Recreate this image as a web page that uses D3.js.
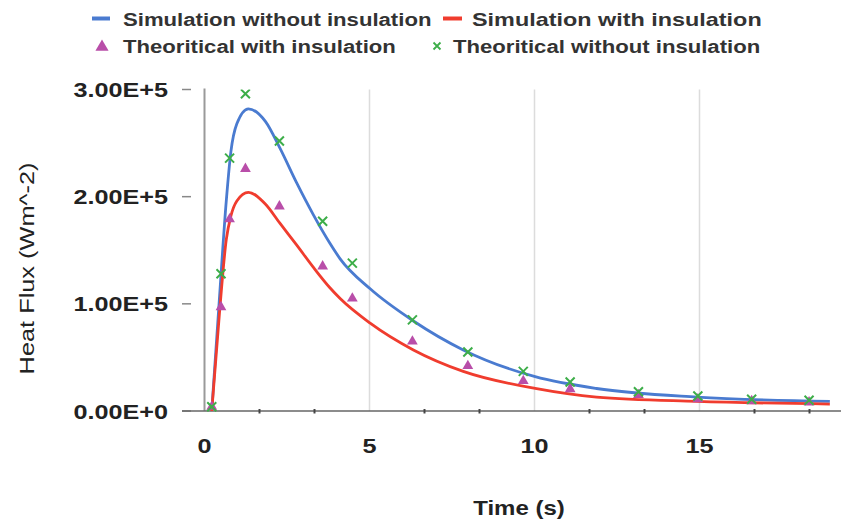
<!DOCTYPE html>
<html>
<head>
<meta charset="utf-8">
<script src="https://cdn.jsdelivr.net/npm/d3@7"></script>
<style>
  body { margin: 0; background: #fff; }
  text { font-family: "Liberation Sans", Arial, sans-serif; }
</style>
</head>
<body>
<div id="chart"></div>
<script>
// simulated curves (time in s, heat flux in W/m^2)
const simTime = [0.22, 0.45, 0.66, 0.8, 0.98, 1.33, 1.85, 2.29, 2.79, 3.3, 3.8, 4.11, 5.02, 6.33, 7.84, 10.02, 11.88, 14.92, 18.95];
const simWithout = [0, 104000, 196000, 242000, 268000, 282000, 270000, 245000, 213000, 183000, 156500, 142000, 114000, 84000, 57000, 32000, 21000, 13000, 9000];
const simWith = [0, 90000, 160000, 182000, 196000, 204000, 193000, 175000, 155000, 134000, 115000, 105000, 82000, 57000, 37000, 21000, 13000, 9000, 6500];

// theoretical points
const theoTime = [0.22, 0.5, 0.76, 1.24, 2.27, 3.58, 4.48, 6.3, 7.98, 9.66, 11.08, 13.15, 14.95, 16.58, 18.32];
const theoWith = [4000, 97000, 179000, 226000, 191000, 135000, 105000, 65000, 42000, 28000, 20500, 15000, 11000, 9300, 8100];
const theoWithout = [4000, 128000, 236000, 296000, 252000, 177000, 138000, 85000, 55000, 37000, 27000, 18000, 14000, 11000, 10000];

const yTicks = [0, 100000, 200000, 300000];
const yTickLabels = ['0.00E+0', '1.00E+5', '2.00E+5', '3.00E+5'];
const xTicks = [0, 5, 10, 15];
const legendLabels = ['Simulation without insulation', 'Simulation with insulation', 'Theoritical with insulation', 'Theoritical without insulation'];

const colors = { blue: '#4a7bd0', red: '#f03c2e', magenta: '#b94ea9', green: '#3dae49' };
const W = 841, H = 526;
const sx = 1.2; // the picture is stretched sideways

const svg = d3.select('#chart').append('svg')
  .attr('width', W)
  .attr('height', H);

const x = d3.scaleLinear().domain([0, 19]).range([204.5, 831.5]);
const y = d3.scaleLinear().domain([0, 300000]).range([411, 89.5]);

function label(px, py, str, size, weight, anchor, stretch) {
  return svg.append('text')
    .attr('transform', `translate(${px},${py}) scale(${stretch || sx},1)`)
    .attr('text-anchor', anchor)
    .attr('font-size', size)
    .attr('font-weight', weight)
    .attr('fill', '#222')
    .text(str);
}

svg.append('defs').append('clipPath').attr('id', 'plotClip')
  .append('rect')
  .attr('x', x(0)).attr('y', y(300000))
  .attr('width', W - x(0)).attr('height', 30 + y(0) - y(300000));

// gridlines
svg.selectAll('.grid')
  .data(xTicks.filter(d => d > 0))
  .enter().append('line')
  .attr('x1', d => x(d)).attr('x2', d => x(d))
  .attr('y1', y(300000)).attr('y2', y(0))
  .attr('stroke', '#dcdcdc')
  .attr('stroke-width', 1.5);

// y axis line and ticks
svg.append('line')
  .attr('x1', x(0)).attr('x2', x(0))
  .attr('y1', y(300000) - 1).attr('y2', y(0))
  .attr('stroke', '#9a9a9a')
  .attr('stroke-width', 2);
svg.selectAll('.ytick')
  .data(yTicks)
  .enter().append('line')
  .attr('x1', 182).attr('x2', 191)
  .attr('y1', d => y(d)).attr('y2', d => y(d))
  .attr('stroke', '#888')
  .attr('stroke-width', 1.5);
yTicks.forEach((v, i) => {
  label(168, y(v) + 7.5, yTickLabels[i], 21, 'bold', 'end');
});

// x axis line and minor ticks
svg.append('line')
  .attr('x1', 182).attr('x2', W)
  .attr('y1', y(0)).attr('y2', y(0))
  .attr('stroke', '#666')
  .attr('stroke-width', 1.5);
const minor = d3.range(1, 12).filter(k => k % 3 !== 0).map(k => k * 5 / 3);
svg.selectAll('.minor')
  .data(minor)
  .enter().append('line')
  .attr('x1', d => x(d)).attr('x2', d => x(d))
  .attr('y1', y(0) - 2).attr('y2', y(0) + 2.5)
  .attr('stroke', '#444')
  .attr('stroke-width', 2);
xTicks.forEach(t => {
  label(x(t), 452.5, String(t), 21, 'bold', 'middle');
});

// axis titles
label(519, 515, 'Time (s)', 20, 'bold', 'middle');
svg.append('text')
  .attr('transform', 'translate(34,268.5) rotate(-90) scale(1.3,1)')
  .attr('text-anchor', 'middle')
  .attr('font-size', 19.5)
  .attr('fill', '#222')
  .text('Heat Flux (Wm^-2)');

// curves
const plot = svg.append('g').attr('clip-path', 'url(#plotClip)');
const line = d3.line().curve(d3.curveMonotoneX);
[[simWithout, colors.blue], [simWith, colors.red]].forEach(([vals, c]) => {
  plot.append('path')
    .attr('d', line(simTime.map((t, i) => [x(t), y(vals[i])])))
    .attr('fill', 'none')
    .attr('stroke', c)
    .attr('stroke-width', 2.8);
});

// theoretical markers
const tri = d3.symbol().type(d3.symbolTriangle).size(50);
plot.selectAll('.tri')
  .data(theoTime.map((t, i) => [t, theoWith[i]]))
  .enter().append('path')
  .attr('transform', d => `translate(${x(d[0])},${y(d[1])})`)
  .attr('d', tri)
  .attr('fill', colors.magenta);
const cross = 'M-4.5,-4.5L4.5,4.5M-4.5,4.5L4.5,-4.5';
plot.selectAll('.cross')
  .data(theoTime.map((t, i) => [t, theoWithout[i]]))
  .enter().append('path')
  .attr('transform', d => `translate(${x(d[0])},${y(d[1])})`)
  .attr('d', cross)
  .attr('stroke', colors.green)
  .attr('stroke-width', 2)
  .attr('fill', 'none');

// legend
svg.append('line').attr('x1', 92).attr('x2', 110).attr('y1', 18.5).attr('y2', 18.5)
  .attr('stroke', colors.blue).attr('stroke-width', 4);
label(123, 25.5, legendLabels[0], 18, 'bold', 'start', 1.23).attr('fill', '#333');
svg.append('line').attr('x1', 443).attr('x2', 462).attr('y1', 18.5).attr('y2', 18.5)
  .attr('stroke', colors.red).attr('stroke-width', 4);
label(472, 25.5, legendLabels[1], 18, 'bold', 'start', 1.3).attr('fill', '#333');
svg.append('path')
  .attr('transform', 'translate(102,47)')
  .attr('d', d3.symbol().type(d3.symbolTriangle).size(75))
  .attr('fill', colors.magenta);
label(123, 53, legendLabels[2], 18, 'bold', 'start', 1.23).attr('fill', '#333');
svg.append('path')
  .attr('transform', 'translate(437,46)')
  .attr('d', 'M-3.5,-3.5L3.5,3.5M-3.5,3.5L3.5,-3.5')
  .attr('stroke', colors.green)
  .attr('stroke-width', 1.8);
label(453, 53, legendLabels[3], 18, 'bold', 'start', 1.23).attr('fill', '#333');
</script>
</body>
</html>
